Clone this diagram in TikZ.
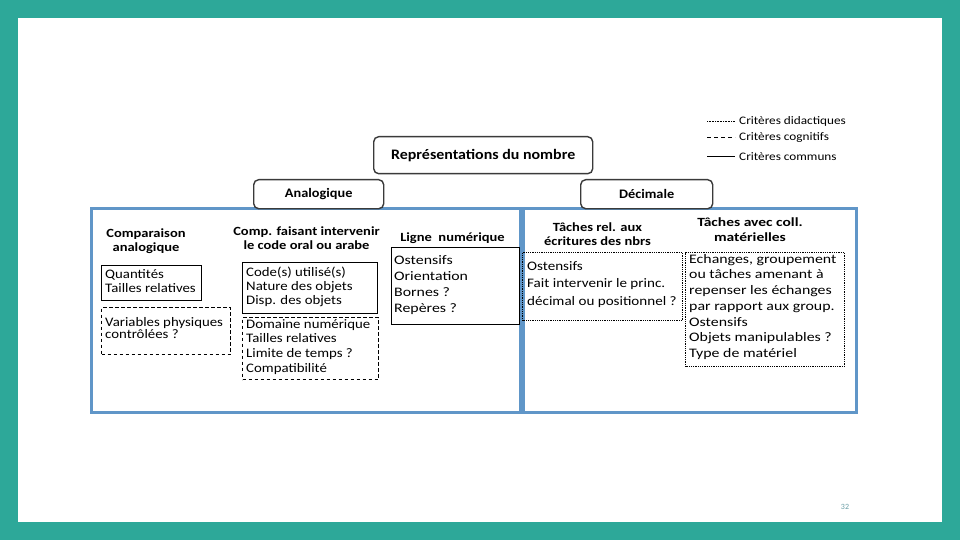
\documentclass[tikz,border=0pt]{standalone}
\usepackage{fontspec}
\setmainfont{Carlito}
\newfontfamily\bodyA[FakeStretch=1.14]{Carlito}
\newfontfamily\bodyB[FakeStretch=1.22]{Carlito}
\newfontfamily\bodyC[FakeStretch=1.16]{Carlito}
\newfontfamily\headA[FakeStretch=1.16]{Carlito}
\newfontfamily\headB[FakeStretch=1.24]{Carlito}
\newfontfamily\titlefam[FakeStretch=1.1]{Carlito}
\newfontfamily\legfam[FakeStretch=1.15]{Carlito}
\definecolor{tealbg}{HTML}{2DA899}
\definecolor{framebl}{HTML}{6096C8}
\definecolor{pagenum}{HTML}{6A9EA6}
\definecolor{roundgray}{HTML}{3A3A3A}
\begin{document}
\begin{tikzpicture}[x=1pt,y=-1pt,
  bodytext/.style 2 args={anchor=north west, inner sep=0pt, align=left, font=#1\fontsize{13}{#2}\selectfont},
  headtext/.style 2 args={anchor=north, inner sep=0pt, align=center, font=#1\bfseries\fontsize{12.5}{#2}\selectfont},
  solidbox/.style={draw=black, line width=1.1pt, anchor=north west, inner sep=0pt},
  dashbox/.style={draw=black, line width=1.1pt, dash pattern=on 3.5pt off 2.5pt, anchor=north west, inner sep=0pt},
  dotbox/.style={draw=black, line width=1.1pt, dash pattern=on 1pt off 0.8pt, anchor=north west, inner sep=0pt},
  bluebox/.style={draw=framebl, line width=2.6pt, anchor=north west, inner sep=0pt},
  roundbox/.style={draw=roundgray, fill=white, line width=1.4pt, rounded corners=5pt, anchor=north west, inner sep=0pt, font=\titlefam\bfseries\fontsize{13}{15}\selectfont},
  legtext/.style={anchor=west, inner sep=0pt, font=\legfam\fontsize{11.5}{13}\selectfont}
]
\useasboundingbox (0,0) rectangle (960,540);
\fill[tealbg] (0,0) rectangle (960,540);
\fill[white] (18,18) rectangle (942,522);

% blue frames
\node[bluebox, minimum width=429pt, minimum height=204pt] (leftframe) at (90,207) {};
\node[bluebox, minimum width=333pt, minimum height=204pt] (rightframe) at (522,207) {};

% title and category boxes
\node[roundbox, minimum width=219pt, minimum height=37pt, font=\titlefam\bfseries\fontsize{14.5}{16}\selectfont] (title) at (373,136) {Représentations du nombre};
\node[roundbox, minimum width=130pt, minimum height=29pt] (analog) at (253,179) {Analogique};
\node[roundbox, minimum width=132pt, minimum height=29pt] (decim) at (580,179) {Décimale};

% column 1
\node[headtext={\headA}{14}] (h1) at (146,229) {Comparaison\\analogique};
\node[solidbox, minimum width=100pt, minimum height=35pt] (b1) at (101,265) {};
\node[bodytext={\bodyA}{14}] (t1) at (105,269) {Quantités\\Tailles relatives};
\node[dashbox, minimum width=129pt, minimum height=47pt] (b2) at (101,307) {};
\node[bodytext={\bodyA}{12.5}] (t2) at (105,317) {Variables physiques\\contrôlées ?};

% column 2
\node[headtext={\headA}{13.5}] (h2) at (306.5,227) {Comp. faisant intervenir\\le code oral ou arabe};
\node[solidbox, minimum width=135pt, minimum height=51pt] (b3) at (242,262) {};
\node[bodytext={\bodyA}{14}] (t3) at (246,267) {Code(s) utilisé(s)\\Nature des objets\\Disp. des objets};
\node[dashbox, minimum width=136pt, minimum height=62pt] (b4) at (242,317) {};
\node[bodytext={\bodyA}{14.7}] (t4) at (246,319) {Domaine numérique\\Tailles relatives\\Limite de temps ?\\Compatibilité};

% column 3
\node[headtext={\headA}{14}] (h3) at (452.5,233) {Ligne~~numérique};
\node[solidbox, minimum width=128pt, minimum height=77pt] (b5) at (391,247) {};
\node[bodytext={\bodyB}{16}] (t5) at (394,255) {Ostensifs\\Orientation\\Bornes ?\\Repères ?};

% column 4
\node[headtext={\headA}{13.5}] (h4) at (597.5,223) {Tâches rel. aux\\écritures des nbrs};
\node[dotbox, minimum width=160pt, minimum height=68pt] (b6) at (522,252) {};
\node[bodytext={\bodyC}{17.5}] (t6) at (527,261) {Ostensifs\\Fait intervenir le princ.\\décimal ou positionnel ?};

% column 5
\node[headtext={\headB}{15}] (h5) at (750,218) {Tâches avec coll.\\matérielles};
\node[dotbox, minimum width=159pt, minimum height=114pt] (b7) at (685,252) {};
\node[bodytext={\bodyB}{15.7}] (t7) at (689,254) {Echanges, groupement\\ou tâches amenant à\\repenser les échanges\\par rapport aux group.\\Ostensifs\\Objets manipulables ?\\Type de matériel};

% legend
\coordinate (l1a) at (707,121); \coordinate (l1b) at (735,121);
\coordinate (l2a) at (707,138); \coordinate (l2b) at (735,138);
\coordinate (l3a) at (707,157); \coordinate (l3b) at (735,157);
\draw[line width=0.8pt, dash pattern=on 0.8pt off 0.8pt] (l1a) -- (l1b);
\draw[line width=1pt, dash pattern=on 4pt off 3pt] (l2a) -- (l2b);
\draw[line width=1pt] (l3a) -- (l3b);
\node[legtext] (lg1) at (739,121) {Critères didactiques};
\node[legtext] (lg2) at (739,138) {Critères cognitifs};
\node[legtext] (lg3) at (739,157) {Critères communs};

% page number
\node[inner sep=0pt, text=pagenum, font=\fontsize{8}{9}\selectfont] (pg) at (845,507) {32};
\end{tikzpicture}
\end{document}
